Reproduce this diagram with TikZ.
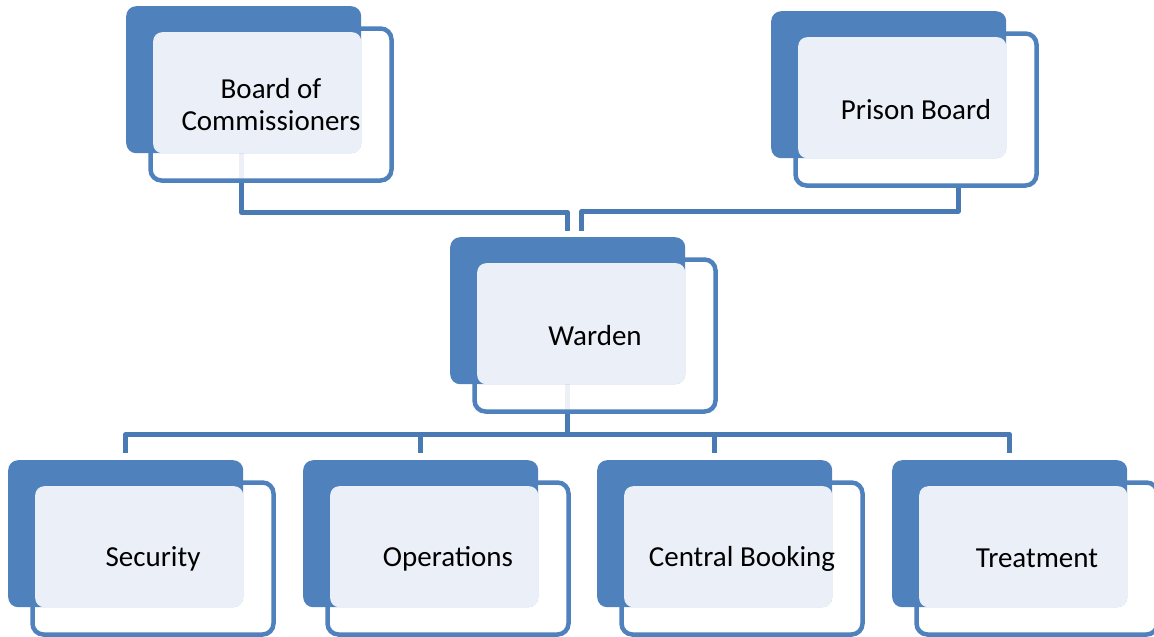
\documentclass[tikz,border=0pt]{standalone}
\usepackage{fontspec}
\setmainfont{Carlito}
\pgfdeclarelayer{background}
\pgfsetlayers{background,main}
\definecolor{boxblue}{HTML}{4F81BD}
\definecolor{connblue}{HTML}{4A7AB4}
\definecolor{lightfill}{HTML}{EBF0F8}
\tikzset{
  darkbox/.style={fill=boxblue, rounded corners=10pt, minimum width=235pt, minimum height=147pt, inner sep=0pt, anchor=north west},
  outbox/.style={draw=boxblue, line width=4.5pt, fill=white, fill opacity=0.9, rounded corners=11pt, minimum width=241pt, minimum height=152pt, inner sep=0pt},
  lightbox/.style={fill=lightfill, rounded corners=9pt, minimum width=208pt, minimum height=121pt, inner sep=0pt, anchor=north west},
  lbl/.style={font=\fontsize{29}{32}\selectfont, align=center, text=black, inner sep=0pt},
  conn/.style={draw=connblue, line width=5pt, line join=round}
}
\newcommand\orgunit[4]{%
  \node[outbox] (#1o) at (#2+145,#3+98.5) {};
  \node[darkbox] (#1d) at (#2,#3) {};
  \node[lightbox] (#1l) at (#2+27,#3+26) {};
  \node[lbl] (#1) at (#2+145,#3+98.5) {#4};
}
\begin{document}
\begin{tikzpicture}[x=1pt,y=-1pt]
\useasboundingbox (0,0) rectangle (1154,637);
\begin{pgfonlayer}{background}
  \fill[white] (0,0) rectangle (1154,637);
\end{pgfonlayer}
\orgunit{board}{126}{6}{Board of\\Commissioners}
\orgunit{prison}{771}{11}{Prison Board}
\orgunit{warden}{450}{237}{Warden}
\orgunit{sec}{8}{460}{Security}
\orgunit{ops}{303}{460}{Operations}
\orgunit{cen}{597}{460}{Central Booking}
\orgunit{tre}{892}{460}{Treatment}
\coordinate (wl) at ([yshift=6pt]wardend.north);
\coordinate (wr) at ([xshift=14pt,yshift=6pt]wardend.north);
\begin{pgfonlayer}{background}
  \draw[conn] ([xshift=-2pt]boardd.south) -- ++(0,59) -| (wl);
  \draw[conn] ([xshift=42pt]prisono.south) -- ++(0,23.5) -| (wr);
  \draw[conn] (wardend.south) -- ++(0,50) coordinate (bus);
  \foreach \n in {sec,ops,cen,tre}
    \draw[conn] (bus) -| ([yshift=7pt]\n d.north);
\end{pgfonlayer}
\end{tikzpicture}
\end{document}
